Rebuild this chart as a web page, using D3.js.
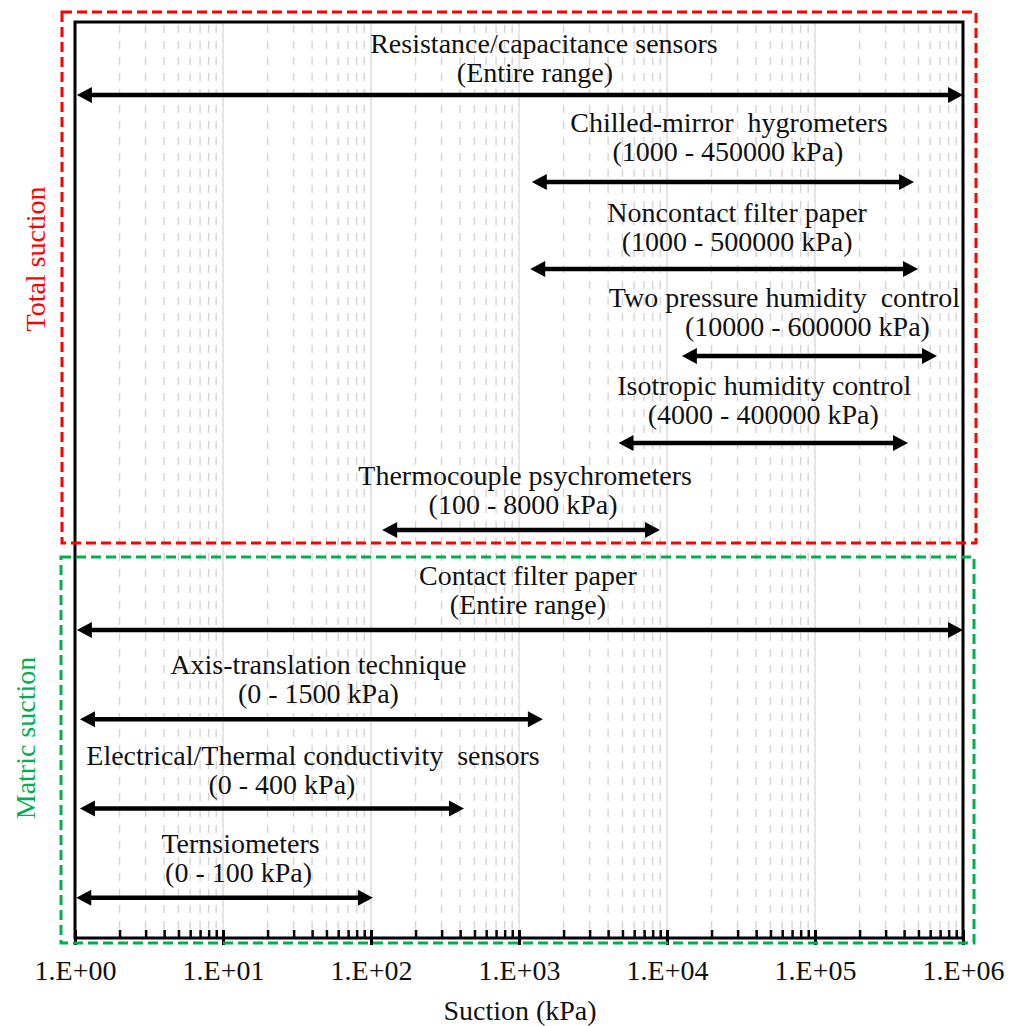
<!DOCTYPE html>
<html>
<head>
<meta charset="utf-8">
<script src="https://cdn.jsdelivr.net/npm/d3@7"></script>
<style>
  html, body { margin: 0; padding: 0; background: #fff; }
  svg { display: block; }
  text { font-family: "Liberation Serif", "Times New Roman", serif; }
</style>
</head>
<body>
<script>
// ---------------- DATA ----------------
const methods = [
  "Resistance/capacitance sensors",
  "Chilled-mirror  hygrometers",
  "Noncontact filter paper",
  "Two pressure humidity  control",
  "Isotropic humidity control",
  "Thermocouple psychrometers",
  "Contact filter paper",
  "Axis-translation technique",
  "Electrical/Thermal conductivity  sensors",
  "Ternsiometers"
];
const rangeLabels = [
  "(Entire range)",
  "(1000 - 450000 kPa)",
  "(1000 - 500000 kPa)",
  "(10000 - 600000 kPa)",
  "(4000 - 400000 kPa)",
  "(100 - 8000 kPa)",
  "(Entire range)",
  "(0 - 1500 kPa)",
  "(0 - 400 kPa)",
  "(0 - 100 kPa)"
];
const suctionGroup = ["total","total","total","total","total","total","matric","matric","matric","matric"];
// arrow extents as drawn (kPa)
const lowKPa  = [1.03, 1220, 1190, 12600, 4700, 119, 1.03, 1.08, 1.08, 1.02];
const highKPa = [1e6, 467000, 497000, 667000, 425000, 8970, 1e6, 1450, 425, 103];
const groupNames = ["Total suction", "Matric suction"];
const tickValues = [1, 10, 100, 1000, 10000, 100000, 1000000];
const tickLabels = ["1.E+00","1.E+01","1.E+02","1.E+03","1.E+04","1.E+05","1.E+06"];
const xTitle = "Suction (kPa)";

// ---------------- LAYOUT ----------------
const W = 1011, H = 1026;
const L = 75, T = 22, R = 963, B = 938;
const FS = 28;
// label centre shift vs arrow centre (px) per line
const dx1 = [24, 6, 13, -25, 1, 4, 8, 7, 41, 16];
const dx2 = [15, 5, 13, -2, 0, 2, 8, 7, 10, 14];
const dyAdj = [3, -5, -2, -4, -3, 0, 0, 0, 1, 0];

const x = d3.scaleLog().domain([1, 1e6]).range([L, R]);
// row slots: total rows step 1, matric block after gap
const rowSlot = (i) => i < 6 ? i : 6.15 + (i - 6) * 1.026;
const y = d3.scaleLinear().domain([0, 1]).range([95, 182]);

const svg = d3.select("body").append("svg").attr("width", W).attr("height", H);

// grid
const minorVals = [];
for (let k = 0; k < 6; k++) for (let m = 2; m <= 9; m++) minorVals.push(m * Math.pow(10, k));
svg.append("g").selectAll("line").data(minorVals).join("line")
  .attr("x1", d => x(d)).attr("x2", d => x(d))
  .attr("y1", T).attr("y2", B)
  .attr("stroke", "#d4d4d4").attr("stroke-width", 1.4)
  .attr("stroke-dasharray", "8,8").attr("stroke-dashoffset", -3);
svg.append("g").selectAll("line").data(tickValues.slice(1, -1)).join("line")
  .attr("x1", d => x(d)).attr("x2", d => x(d))
  .attr("y1", T).attr("y2", B)
  .attr("stroke", "#d9d9d9").attr("stroke-width", 1.4);

// axis
const axisG = svg.append("g").attr("transform", `translate(0,${B})`)
  .call(d3.axisBottom(x).tickValues(tickValues).tickFormat((d, i) => tickLabels[i])
    .tickSizeInner(7).tickSizeOuter(0));
axisG.select(".domain").remove();
axisG.selectAll(".tick line").attr("y1", -8).attr("stroke", "#000").attr("stroke-width", 3);
axisG.selectAll(".tick text").attr("y", 42).attr("dy", null)
  .attr("font-size", FS).attr("fill", "#111")
  .style("font-family", "'Liberation Serif', serif");
const minorAxis = svg.append("g").attr("transform", `translate(0,${B})`)
  .call(d3.axisBottom(x).tickValues(minorVals).tickFormat("").tickSizeInner(-8).tickSizeOuter(0));
minorAxis.select(".domain").remove();
minorAxis.selectAll(".tick line").attr("stroke", "#000").attr("stroke-width", 2.5);

// plot frame
svg.append("rect").attr("x", L).attr("y", T).attr("width", R - L).attr("height", B - T)
  .attr("fill", "none").attr("stroke", "#000").attr("stroke-width", 3);

// group boxes
svg.append("rect").attr("x", 62).attr("y", 12).attr("width", 914).attr("height", 531)
  .attr("fill", "none").attr("stroke", "#ff0000").attr("stroke-width", 3)
  .attr("stroke-dasharray", "10,5");
svg.append("rect").attr("x", 61).attr("y", 557).attr("width", 913).attr("height", 386)
  .attr("fill", "none").attr("stroke", "#00b050").attr("stroke-width", 3)
  .attr("stroke-dasharray", "10,5");

// group labels
svg.append("text").attr("transform", "translate(45,259) rotate(-90)")
  .attr("text-anchor", "middle").attr("font-size", FS).attr("fill", "#ff0000")
  .text(groupNames[0]);
svg.append("text").attr("transform", "translate(35,738) rotate(-90)")
  .attr("text-anchor", "middle").attr("font-size", FS).attr("fill", "#00b050")
  .text(groupNames[1]);

// arrows
const HL = 15, HW = 8;
const rows = methods.map((m, i) => ({
  m, r: rangeLabels[i], g: suctionGroup[i], lo: lowKPa[i], hi: highKPa[i], i
}));
const ag = svg.append("g");
rows.forEach(d => {
  const yy = y(rowSlot(d.i));
  const x1 = x(d.lo), x2 = x(d.hi);
  ag.append("line").attr("x1", x1 + HL - 2).attr("x2", x2 - HL + 2)
    .attr("y1", yy).attr("y2", yy).attr("stroke", "#000").attr("stroke-width", 4.5);
  ag.append("path").attr("d", `M${x1},${yy}L${x1 + HL},${yy - HW}L${x1 + HL},${yy + HW}Z`).attr("fill", "#000");
  ag.append("path").attr("d", `M${x2},${yy}L${x2 - HL},${yy - HW}L${x2 - HL},${yy + HW}Z`).attr("fill", "#000");
  const cx = (x1 + x2) / 2;
  const ty = yy + dyAdj[d.i];
  ag.append("text").attr("x", cx + dx1[d.i]).attr("y", ty - 45)
    .attr("text-anchor", "middle").attr("font-size", FS).attr("fill", "#111")
    .style("white-space", "pre").text(d.m);
  ag.append("text").attr("x", cx + dx2[d.i]).attr("y", ty - 16)
    .attr("text-anchor", "middle").attr("font-size", FS).attr("fill", "#111")
    .text(d.r);
});

// x title
svg.append("text").attr("x", 520).attr("y", 1020).attr("text-anchor", "middle")
  .attr("font-size", FS).attr("fill", "#111").text(xTitle);
</script>
</body>
</html>
